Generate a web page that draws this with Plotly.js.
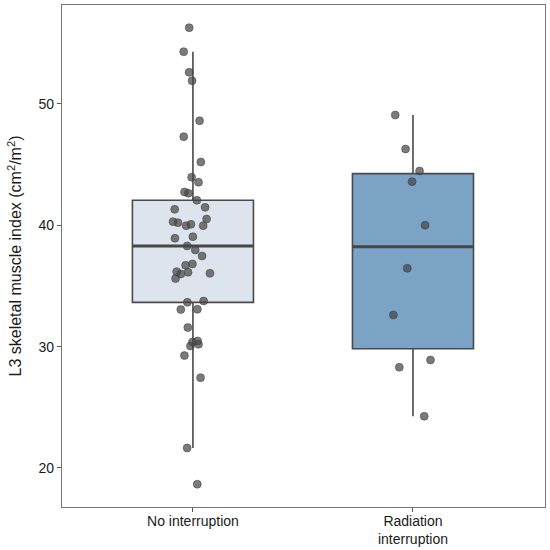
<!DOCTYPE html>
<html>
<head>
<meta charset="utf-8">
<script src="https://cdn.plot.ly/plotly-3.0.1.min.js"></script>
<style>html,body{margin:0;padding:0;background:#fff;}#chart{width:550px;height:550px;}</style>
</head>
<body>
<div id="chart"></div>
<script>
const categories = ['No interruption', 'Radiation<br>interruption'];
const noInterruption = [56.29, 54.31, 52.61, 51.92, 48.62, 47.31, 45.22, 43.96, 43.55, 42.64, 42.75, 42.06, 41.48, 41.32, 40.52, 39.97, 39.97, 40.22, 40.30, 40.08, 39.06, 38.93, 38.30, 37.97, 37.47, 36.81, 36.70, 36.18, 36.04, 36.13, 35.99, 35.61, 33.76, 33.65, 33.05, 33.08, 31.57, 30.47, 30.38, 30.19, 30.05, 29.26, 27.44, 21.65, 18.66];
const radiationInterruption = [49.09, 46.29, 44.48, 43.60, 40.01, 36.46, 32.61, 28.90, 28.30, 24.26];
const yTickVals = [20, 30, 40, 50];
const boxFills = ['#dde4ed', '#7aa3c6'];

function quantile7(arr, p) {
  const s = arr.slice().sort((a, b) => a - b);
  const h = (s.length - 1) * p;
  const lo = Math.floor(h);
  const hi = Math.min(lo + 1, s.length - 1);
  return s[lo] + (h - lo) * (s[hi] - s[lo]);
}
function stats(arr) {
  const q1 = quantile7(arr, 0.25), med = quantile7(arr, 0.5), q3 = quantile7(arr, 0.75);
  const iqr = q3 - q1;
  const lf = Math.min(...arr.filter(v => v >= q1 - 1.5 * iqr));
  const uf = Math.max(...arr.filter(v => v <= q3 + 1.5 * iqr));
  return {q1, med, q3, lf, uf};
}

const groups = [noInterruption, radiationInterruption];
const traces = [];
const BOXW = 0.55;
groups.forEach((g, i) => {
  const s = stats(g);
  traces.push({
    type: 'box', x: [categories[i]], q1: [s.q1], median: [s.med], q3: [s.q3],
    lowerfence: [s.lf], upperfence: [s.uf], width: BOXW,
    fillcolor: boxFills[i], line: {color: '#4a4a4a', width: 1.6},
    whiskerwidth: 0, boxpoints: false, hoverinfo: 'skip'
  });
  traces.push({
    type: 'box', x: [categories[i]], q1: [s.med], median: [s.med], q3: [s.med],
    lowerfence: [s.med], upperfence: [s.med], width: BOXW,
    fillcolor: 'rgba(0,0,0,0)', line: {color: '#474747', width: 3},
    whiskerwidth: 0, boxpoints: false, hoverinfo: 'skip'
  });
});
groups.forEach((g, i) => {
  traces.push({
    type: 'box', x: g.map(() => categories[i]), y: g, width: BOXW,
    boxpoints: 'all', jitter: 0.4, pointpos: 0,
    fillcolor: 'rgba(0,0,0,0)', line: {color: 'rgba(0,0,0,0)', width: 0},
    whiskerwidth: 0,
    marker: {color: 'rgba(70,70,70,0.72)', size: 8, line: {color: 'rgba(60,60,60,0.8)', width: 0.6}}
  });
});

const layout = {
  width: 550, height: 550,
  margin: {l: 62, r: 5, t: 5, b: 43},
  paper_bgcolor: '#fff', plot_bgcolor: '#fff',
  showlegend: false, boxmode: 'overlay',
  font: {family: 'Liberation Sans, Arial, sans-serif', color: '#1a1a1a'},
  xaxis: {
    type: 'category', categoryarray: categories, range: [-0.595, 1.6],
    showline: true, mirror: true, linecolor: '#777', linewidth: 1.2,
    ticks: 'outside', ticklen: 4, tickcolor: '#555', tickwidth: 1,
    tickfont: {size: 14, color: '#1a1a1a'}, showgrid: false, zeroline: false,
    ticklabelstandoff: -3
  },
  yaxis: {
    range: [16.78, 58.16], tickvals: yTickVals, ticktext: yTickVals.map(String),
    showline: true, mirror: true, linecolor: '#777', linewidth: 1.2,
    ticks: 'outside', ticklen: 4, tickcolor: '#555', tickwidth: 1,
    tickfont: {size: 14, color: '#1a1a1a'}, showgrid: false, zeroline: false,
    title: {text: 'L3 skeletal muscle index (cm<sup>2</sup>/m<sup>2</sup>)', font: {size: 16, color: '#1a1a1a'}, standoff: 12}
  }
};
Plotly.newPlot('chart', traces, layout, {displayModeBar: false, staticPlot: true});
</script>
</body>
</html>
